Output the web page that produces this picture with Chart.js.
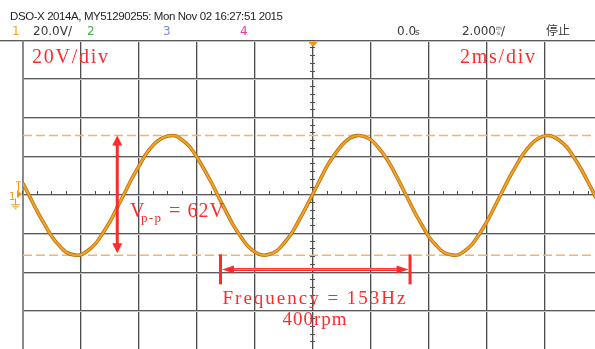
<!DOCTYPE html>
<html>
<head>
<meta charset="utf-8">
<script src="https://cdn.jsdelivr.net/npm/chart.js@4/dist/chart.umd.min.js"></script>
<style>
  html, body { margin: 0; padding: 0; background: #fff; width: 595px; height: 349px; overflow: hidden; }
  #wrap { position: absolute; left: 0; top: 0; width: 610px; height: 352px; }
</style>
</head>
<body>
<div id="wrap"><canvas id="scope" width="610" height="352"></canvas></div>
<script>
// Screen span and graticule: 10 x 2 ms horizontally, 8 x 20 V vertically
const timeSpanMs = [-10, 10];
const timeDivMs = 2;
const voltSpan = [-80, 80];
const voltDiv = 20;

// Channel 1 capture, one sample every 0.25 ms starting at -10 ms (volts)
const traceStartMs = -10;
const traceStepMs = 0.25;
const traceVolts = [
  6.2, -1.2, -8.5, -15.1, -21.4, -26.0, -29.5, -30.8, -30.7, -28.4, -25.0, -19.6, -13.6,
  -6.2, 1.1, 8.6, 15.2, 21.5, 26.2, 29.2, 30.7, 30.8, 28.5, 25.1, 19.7, 13.3,
  6.5, -1.0, -8.3, -15.4, -21.2, -26.2, -29.3, -30.9, -30.5, -28.7, -24.8, -19.9, -13.4,
  -6.5, 0.9, 8.3, 15.5, 21.2, 26.0, 29.4, 30.9, 30.5, 28.7, 24.8, 19.9, 13.6,
  6.3, -1.1, -8.6, -15.2, -21.5, -25.9, -29.4, -30.7, -30.8, -28.5, -25.1, -19.7, -13.5,
  -6.3, 1.2, 8.5, 15.2, 21.4, 26.1, 29.3, 30.8, 30.6, 28.4, 25.0, 19.6, 13.5,
  6.4, -1.0, -8.4
];

// Horizontal cursors at the peaks (V)
const cursorVolts = [31, -31];

// Peak-to-peak marker
const vppVolts = 62;
const vppMarkerMs = -6.75;

// One period marker
const freqHz = 153;
const rpm = 400;
const freqStartMs = -3.19;
const freqLevelV = -38.3;

// Status bar texts
const headerTitle = 'DSO-X 2014A, MY51290255: Mon Nov 02 16:27:51 2015';
const channelNames = ['1', '2', '3', '4'];
const channelColors = ['#f0a030', '#3fb34a', '#7c86e6', '#e83aa2'];
const ch1Scale = '20.0V/';
const timeOffset = '0.0s';
const timeBase = '2.000';
const runState = '停止';

const tracePoints = traceVolts.map((v, i) => ({ x: traceStartMs + i * traceStepMs, y: v }));
const periodMs = 1000 / freqHz;

const RED = '#ff2a2a';
const ORANGE = '#f0980f';

function fitText(ctx, text, x, y, width, font, color) {
  ctx.font = font;
  ctx.fillStyle = color;
  ctx.letterSpacing = '0px';
  const w = ctx.measureText(text).width;
  const n = Math.max(1, text.length - 1);
  ctx.letterSpacing = ((width - w) / n) + 'px';
  ctx.fillText(text, x, y);
  ctx.letterSpacing = '0px';
}

const graticule = {
  id: 'graticule',
  beforeDatasetsDraw(chart) {
    const ctx = chart.ctx, a = chart.chartArea;
    const xs = chart.scales.x, ys = chart.scales.y;
    ctx.save();
    // vertical division lines
    for (let t = timeSpanMs[0]; t <= timeSpanMs[1] + 1e-9; t += timeDivMs) {
      const px = Math.round(xs.getPixelForValue(t));
      ctx.fillStyle = '#c4c4c4';
      ctx.fillRect(px, a.top, 1, a.bottom - a.top);
      ctx.fillStyle = '#4e4e4e';
      ctx.fillRect(px - 1, a.top, 1, a.bottom - a.top);
    }
    // horizontal division lines
    for (let v = voltSpan[0]; v <= voltSpan[1] + 1e-9; v += voltDiv) {
      const py = Math.round(ys.getPixelForValue(v));
      const x0 = (v === voltSpan[1]) ? 0 : (v === voltSpan[0] ? 9 : a.left);
      ctx.fillStyle = '#c4c4c4';
      ctx.fillRect(x0, py, a.right - x0, 1);
      ctx.fillStyle = '#5a5a5a';
      ctx.fillRect(x0, py - 1, a.right - x0, 1);
    }
    // left frame edge
    ctx.fillStyle = '#8a8a8a';
    ctx.fillRect(Math.round(a.left) - 1, a.top, 2, a.bottom - a.top);
    // minor ticks along the centre axes
    const y0 = Math.round(ys.getPixelForValue(0));
    const x0 = Math.round(xs.getPixelForValue(0));
    ctx.fillStyle = '#4e4e4e';
    for (let t = timeSpanMs[0]; t <= timeSpanMs[1] + 1e-9; t += timeDivMs / 4) {
      const px = Math.round(xs.getPixelForValue(t));
      ctx.fillRect(px - 1, y0 - 4, 1, 4);
    }
    for (let v = voltSpan[0]; v <= voltSpan[1] + 1e-9; v += voltDiv / 5) {
      const py = Math.round(ys.getPixelForValue(v));
      ctx.fillRect(x0 - 3, py - 1, 5, 1);
    }
    ctx.restore();
  }
};

function arrowHead(ctx, tipX, tipY, dx, dy, len, half) {
  // dx,dy: unit direction the arrow points to
  const bx = tipX - dx * len, by = tipY - dy * len;
  ctx.beginPath();
  ctx.moveTo(tipX, tipY);
  ctx.lineTo(bx - dy * half, by + dx * half);
  ctx.lineTo(bx + dy * half, by - dx * half);
  ctx.closePath();
  ctx.fill();
}

const annotations = {
  id: 'annotations',
  afterDatasetsDraw(chart) {
    const ctx = chart.ctx, a = chart.chartArea;
    const xs = chart.scales.x, ys = chart.scales.y;
    ctx.save();
    ctx.textBaseline = 'alphabetic';
    ctx.textAlign = 'left';

    // status bar
    fitText(ctx, headerTitle, 10, 20, 273, '11.5px "Liberation Sans", Arial, sans-serif', '#1e1e1e');
    const row = 35;
    ctx.font = '12px "DejaVu Sans", sans-serif';
    ctx.fillStyle = channelColors[0]; ctx.fillText(channelNames[0], 12, row);
    fitText(ctx, ch1Scale, 33, row, 39, '12px "DejaVu Sans", sans-serif', '#3a3a3a');
    ctx.font = '12px "DejaVu Sans", sans-serif';
    ctx.fillStyle = channelColors[1]; ctx.fillText(channelNames[1], 87, row);
    ctx.fillStyle = channelColors[2]; ctx.fillText(channelNames[2], 163, row);
    ctx.fillStyle = channelColors[3]; ctx.fillText(channelNames[3], 240, row);
    ctx.fillStyle = '#3a3a3a';
    ctx.fillText(timeOffset.slice(0, -1), 397, row);
    ctx.font = '9px "DejaVu Sans", sans-serif';
    ctx.fillText(timeOffset.slice(-1), 415, row);
    fitText(ctx, timeBase, 462, row, 34, '12px "DejaVu Sans", sans-serif', '#3a3a3a');
    ctx.font = '6px "DejaVu Sans", sans-serif';
    ctx.fillText('m', 496, row - 5);
    ctx.fillText('s', 497, row);
    ctx.font = '12px "DejaVu Sans", sans-serif';
    ctx.fillText('/', 501, row);
    ctx.font = '12px "Noto Sans CJK SC", sans-serif';
    ctx.fillText(runState, 546, row);

    // trigger position marker
    const tx = xs.getPixelForValue(0);
    ctx.fillStyle = ORANGE;
    ctx.beginPath();
    ctx.moveTo(tx - 5, a.top + 1);
    ctx.lineTo(tx + 5, a.top + 1);
    ctx.lineTo(tx, a.top + 6);
    ctx.closePath();
    ctx.fill();

    // channel 1 ground reference marker
    const gy = ys.getPixelForValue(0);
    ctx.fillStyle = ORANGE;
    ctx.strokeStyle = ORANGE;
    ctx.lineWidth = 1;
    ctx.beginPath();
    ctx.moveTo(16, gy - 13.5); ctx.lineTo(21, gy - 13.5);
    ctx.moveTo(18.5, gy - 13.5); ctx.lineTo(18.5, gy - 4);
    ctx.stroke();
    ctx.beginPath();
    ctx.moveTo(17, gy - 5); ctx.lineTo(22, gy - 1); ctx.lineTo(17, gy + 3); ctx.closePath();
    ctx.fill();
    ctx.font = '10px "DejaVu Sans", sans-serif';
    ctx.fillText('1', 9, gy + 5);
    ctx.beginPath();
    ctx.moveTo(15.5, gy + 3); ctx.lineTo(15.5, gy + 9);
    ctx.moveTo(11, gy + 9.5); ctx.lineTo(20, gy + 9.5);
    ctx.moveTo(12.5, gy + 11.5); ctx.lineTo(18.5, gy + 11.5);
    ctx.moveTo(14.5, gy + 13.5); ctx.lineTo(16.5, gy + 13.5);
    ctx.stroke();

    // scale notes
    const serif = '"Liberation Serif", "DejaVu Serif", serif';
    fitText(ctx, '20V/div', 32, 62.5, 76, '20px ' + serif, RED);
    fitText(ctx, '2ms/div', 460, 62.5, 75, '20px ' + serif, RED);

    // peak-to-peak arrow
    ctx.fillStyle = RED;
    ctx.strokeStyle = RED;
    const vx = xs.getPixelForValue(vppMarkerMs);
    const vTop = ys.getPixelForValue(vppVolts / 2);
    const vBot = ys.getPixelForValue(-vppVolts / 2);
    ctx.lineWidth = 3;
    ctx.beginPath();
    ctx.moveTo(vx, vTop + 8); ctx.lineTo(vx, vBot - 8);
    ctx.stroke();
    arrowHead(ctx, vx, vTop, 0, -1, 10, 5);
    arrowHead(ctx, vx, vBot - 2, 0, 1, 10, 5);

    ctx.font = '20px ' + serif;
    ctx.fillText('V', 130, 216.5);
    fitText(ctx, 'p-p', 141, 221.5, 20, '13px ' + serif, RED);
    fitText(ctx, '= ' + vppVolts + 'V', 169, 216.5, 55, '20px ' + serif, RED);

    // one-period arrow
    const fx0 = xs.getPixelForValue(freqStartMs);
    const fx1 = xs.getPixelForValue(freqStartMs + periodMs);
    const fy = ys.getPixelForValue(freqLevelV);
    ctx.fillRect(fx0 - 1.5, fy - 15, 3, 30);
    ctx.fillRect(fx1 - 1.5, fy - 15, 3, 30);
    ctx.lineWidth = 3;
    ctx.beginPath();
    ctx.moveTo(fx0 + 8, fy); ctx.lineTo(fx1 - 8, fy);
    ctx.stroke();
    ctx.strokeStyle = '#ff9a9a';
    ctx.lineWidth = 1;
    ctx.beginPath();
    ctx.moveTo(fx0 + 10, fy); ctx.lineTo(fx1 - 10, fy);
    ctx.stroke();
    arrowHead(ctx, fx0 + 1.5, fy, -1, 0, 12, 4);
    arrowHead(ctx, fx1 - 1.5, fy, 1, 0, 12, 4);

    const label = 'Frequency = ' + freqHz + 'Hz';
    fitText(ctx, label, 222.5, 304, 183, '19px ' + serif, RED);
    fitText(ctx, rpm + 'rpm', 282.5, 325, 64, '19px ' + serif, RED);

    ctx.restore();
  }
};

new Chart(document.getElementById('scope'), {
  type: 'scatter',
  data: {
    datasets: [
      {
        data: cursorVolts.length ? [{ x: timeSpanMs[0], y: cursorVolts[0] }, { x: timeSpanMs[1], y: cursorVolts[0] }] : [],
        showLine: true, borderColor: '#f8b466', borderWidth: 1.5, borderDash: [9, 4],
        pointRadius: 0, order: 3
      },
      {
        data: [{ x: timeSpanMs[0], y: cursorVolts[1] }, { x: timeSpanMs[1], y: cursorVolts[1] }],
        showLine: true, borderColor: '#f8b466', borderWidth: 1.5, borderDash: [9, 4],
        pointRadius: 0, order: 3
      },
      {
        data: tracePoints, showLine: true, borderColor: '#b7730f', borderWidth: 3.6,
        tension: 0.3, pointRadius: 0, order: 2
      },
      {
        data: tracePoints, showLine: true, borderColor: '#f3a127', borderWidth: 2,
        tension: 0.3, pointRadius: 0, order: 1
      }
    ]
  },
  options: {
    responsive: false,
    animation: false,
    devicePixelRatio: 1,
    layout: { padding: { left: 23, top: 40.7, right: 7, bottom: 2 } },
    plugins: { legend: { display: false }, tooltip: { enabled: false } },
    events: [],
    scales: {
      x: { type: 'linear', min: timeSpanMs[0], max: timeSpanMs[1], display: false },
      y: { type: 'linear', min: voltSpan[0], max: voltSpan[1], display: false }
    }
  },
  plugins: [graticule, annotations]
});
</script>
</body>
</html>
